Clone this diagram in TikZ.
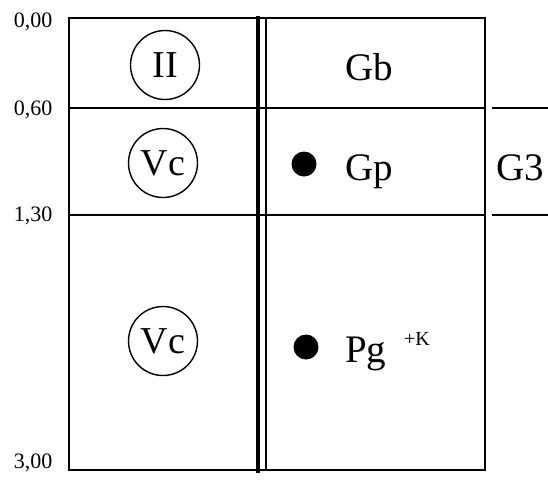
\documentclass[tikz,border=0pt]{standalone}
\usepackage{fontspec}
\setmainfont{Liberation Serif}
\usetikzlibrary{positioning}

\begin{document}
\begin{tikzpicture}[x=1pt, y=-1pt,
  rule/.style={line width=1.5pt},
  depth/.style={font=\fontsize{22}{22}\selectfont, inner sep=0pt},
  unit/.style={circle, draw, line width=1.4pt, minimum size=69pt,
               inner sep=0pt, font=\fontsize{38}{38}\selectfont},
  layer/.style={font=\fontsize{39}{39}\selectfont, inner sep=0pt, anchor=base},
  dot/.style={circle, fill, minimum size=25pt, inner sep=0pt},
]
  \useasboundingbox (0,0) rectangle (548,480);

  % log frame
  \draw[rule] (69,18) rectangle (485,470);
  \draw[rule] (69,108) -- (485,108);
  \draw[rule] (69,215) -- (485,215);
  \draw[line width=4pt] (258,16) -- (258,473);
  \draw[rule] (266,18) -- (266,470);

  % group bracket
  \draw[rule] (492,108) -- (548,108);
  \draw[rule] (492,215) -- (548,215);

  % depths
  \node[depth] (d0) at (33,22)  {0,00};
  \node[depth] (d1) at (33,110) {0,60};
  \node[depth] (d2) at (33,216) {1,30};
  \node[depth] (d3) at (33,463) {3,00};

  % units
  \node[unit] (u1) at (165,65)  {II};
  \node[unit] (u2) at (163,163) {V\kern1pt c};
  \node[unit] (u3) at (163,341) {V\kern1pt c};

  % layers
  \node[layer] (gb) at (369,80)  {Gb};
  \node[dot]   (p1) at (304,164) {};
  \node[layer] (gp) at (369,180) {Gp};
  \node[layer] (g3) at (520,180) {G3};
  \node[dot]   (p2) at (306,347) {};
  \node[layer, anchor=base west] (pg) at (345,362) {Pg};
  \node[font=\fontsize{20}{20}\selectfont, inner sep=0pt, anchor=base west]
    (k) at (404,345) {+K};
\end{tikzpicture}
\end{document}
